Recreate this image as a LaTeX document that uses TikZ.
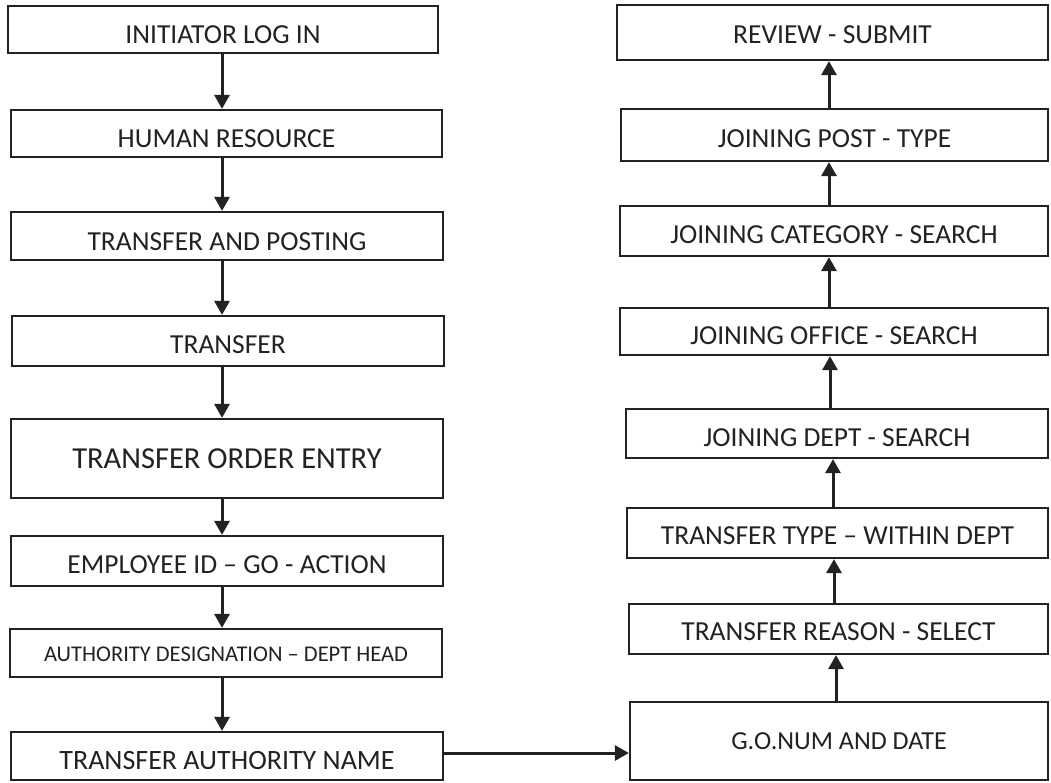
\documentclass[tikz,border=0pt]{standalone}
\usepackage{fontspec}
\setmainfont{Carlito}
\usetikzlibrary{arrows.meta}
\definecolor{ink}{HTML}{222222}
\begin{document}
\begin{tikzpicture}[x=1pt,y=-1pt,
  box/.style={draw=ink, line width=2.2pt, fill=white, text=ink, inner sep=0pt,
    font=\fontsize{27.5}{32}\selectfont, text height=25.4pt, text depth=0pt},
  arr/.style={draw=ink, line width=3pt, -{Triangle[length=14pt,width=15pt]}}]
\useasboundingbox (0,0) rectangle (1051,782);
\fill[white] (0,0) rectangle (1051,782);

% left column, top to bottom
\node[box, minimum width=430pt, minimum height=47pt, text height=28.4pt] (l1) at (223,29.5) {INITIATOR LOG IN};
\node[box, minimum width=431pt, minimum height=47pt, text height=27.4pt] (l2) at (226.5,133.5) {HUMAN RESOURCE};
\node[box, minimum width=432pt, minimum height=48pt, text height=28.4pt] (l3) at (227,236) {TRANSFER AND POSTING};
\node[box, minimum width=432pt, minimum height=50pt] (l4) at (228,341) {TRANSFER};
\node[box, minimum width=432pt, minimum height=79pt, font=\fontsize{30.5}{35}\selectfont, text height=19.3pt] (l5) at (227,458.5) {TRANSFER ORDER ENTRY};
\node[box, minimum width=432pt, minimum height=50pt, text height=24.4pt] (l6) at (227,561) {EMPLOYEE ID – GO - ACTION};
\node[box, minimum width=432pt, minimum height=48pt, font=\fontsize{22.5}{26}\selectfont, text height=16.2pt] (l7) at (226,653) {AUTHORITY DESIGNATION – DEPT HEAD};
\node[box, minimum width=432pt, minimum height=48pt, font=\fontsize{28}{32}\selectfont, text height=26.7pt] (l8) at (227,756) {TRANSFER AUTHORITY NAME};

% right column, top to bottom
\node[box, minimum width=431pt, minimum height=55pt, text height=22.4pt] (r1) at (832.5,32.5) {REVIEW - SUBMIT};
\node[box, minimum width=427pt, minimum height=52pt, text height=24.4pt] (r2) at (834.5,135) {JOINING POST - TYPE};
\node[box, minimum width=428pt, minimum height=50pt, text height=24.4pt] (r3) at (834,231) {JOINING CATEGORY - SEARCH};
\node[box, minimum width=428pt, minimum height=47pt, text height=26.4pt] (r4) at (834,331.5) {JOINING OFFICE - SEARCH};
\node[box, minimum width=422pt, minimum height=49pt, text height=26.4pt] (r5) at (837,433.5) {JOINING DEPT - SEARCH};
\node[box, minimum width=421pt, minimum height=50pt, text height=23.4pt] (r6) at (837.5,533) {TRANSFER TYPE – WITHIN DEPT};
\node[box, minimum width=419pt, minimum height=50pt, text height=22.4pt] (r7) at (838.5,629) {TRANSFER REASON - SELECT};
\node[box, minimum width=418pt, minimum height=78pt, font=\fontsize{26}{30}\selectfont, text height=17.4pt] (r8) at (839,741) {G.O.NUM AND DATE};

% downward flow on the left
\coordinate (lx) at (222,0);
\foreach \a/\b in {l1/l2,l2/l3,l3/l4,l4/l5,l5/l6,l6/l7,l7/l8}
  \draw[arr] (\a.south -| lx) -- (\b.north -| lx);

% crossing to the right column
\coordinate (hy) at (0,753);
\draw[arr] (l8.east |- hy) -- (r8.west |- hy);

% upward flow on the right
\foreach \a/\b/\x in {r8/r7/836,r7/r6/834,r6/r5/833,r5/r4/830,r4/r3/829,r3/r2/829,r2/r1/829}{
  \coordinate (rx) at (\x,0);
  \draw[arr] (\a.north -| rx) -- (\b.south -| rx);
}
\end{tikzpicture}
\end{document}
